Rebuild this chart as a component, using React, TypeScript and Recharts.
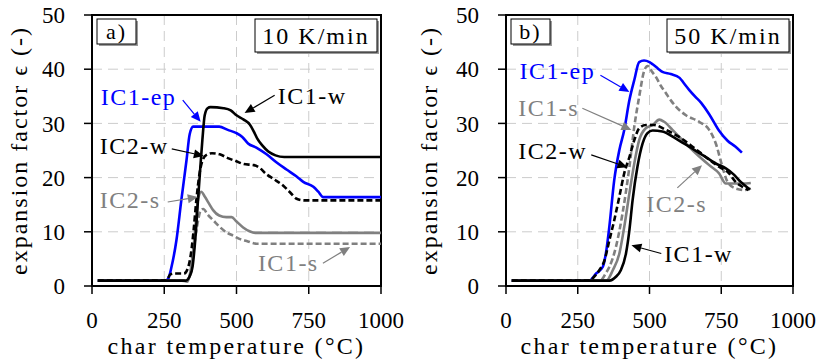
import React from 'react';
import {
  LineChart,
  Line,
  XAxis,
  YAxis,
  CartesianGrid,
  ReferenceArea,
  ReferenceLine,
  ReferenceDot,
  Label,
} from 'recharts';

const xTicks = [0, 250, 500, 750, 1000];
const yTicks = [0, 10, 20, 30, 40, 50];

// panel a) 10 K/min  -> [char temperature °C, expansion factor]
const aIC1ep = [[20, 1], [255, 1], [265, 1.5], [275, 3.5], [292, 8.4], [309, 15.8], [327, 23.2], [338, 28], [350, 29.4], [440, 29.4], [470, 28.8], [500, 28.2], [520, 27.5], [540, 26.3], [570, 25.5], [604, 24.3], [639, 22.8], [673, 21.5], [708, 20.2], [731, 19.2], [766, 18.3], [783, 17.4], [800, 16.4], [1000, 16.4]];
const aIC1w = [[20, 1], [325, 1], [338, 1.8], [348, 3.6], [358, 9], [367, 16], [375, 22], [382, 27], [390, 31.5], [400, 32.8], [410, 33], [455, 32.8], [480, 32.4], [500, 31.5], [525, 30.7], [546, 29.8], [560, 28.5], [572, 27.2], [590, 25.9], [610, 24.8], [635, 24.1], [665, 23.8], [1000, 23.8]];
const aIC2w = [[20, 1], [258, 1], [270, 2.1], [285, 2.3], [318, 2.3], [333, 3.5], [345, 7], [352, 10.5], [361, 15.8], [372, 20.7], [385, 23.5], [400, 24.3], [415, 24.5], [442, 24.3], [470, 23.6], [500, 23], [525, 22.5], [560, 22.3], [580, 21.8], [604, 20.6], [630, 19.7], [662, 18.5], [685, 17.3], [708, 16.1], [735, 15.8], [1000, 15.8]];
const aIC2s = [[20, 1], [310, 1], [330, 0.8], [340, 2.5], [350, 6.5], [358, 11], [367, 16], [378, 17.4], [390, 16.5], [405, 15.2], [419, 14], [440, 13], [465, 12.7], [483, 12.7], [500, 11.9], [523, 10.8], [545, 10.1], [565, 9.8], [1000, 9.8]];
const aIC1s = [[20, 1], [320, 1], [335, 1.5], [345, 3.5], [355, 8], [365, 11.5], [375, 13.8], [385, 14.2], [400, 13.2], [420, 12.1], [442, 10.9], [465, 9.9], [488, 9.3], [510, 8.7], [535, 8.3], [569, 7.8], [1000, 7.8]];

// panel b) 50 K/min
const bIC1ep = [[20, 1], [290, 1], [314, 2.3], [337, 3.5], [348, 6], [360, 10.9], [377, 19.5], [395, 25.1], [412, 28.8], [430, 34.3], [447, 38], [464, 41.3], [481, 41.6], [500, 41.3], [511, 40.9], [530, 40.1], [545, 39.5], [574, 39.1], [605, 38.4], [620, 37.4], [638, 36.2], [660, 34.9], [680, 33.8], [708, 31.7], [742, 28.7], [772, 26.8], [800, 25.7], [822, 24.6]];
const bIC1s = [[20, 1], [320, 1], [335, 1.3], [347, 2.3], [360, 3.5], [383, 7.2], [406, 13.4], [430, 22], [447, 29.4], [464, 34.9], [481, 39.6], [493, 40.6], [508, 39.6], [522, 38.6], [540, 36.9], [557, 35.6], [575, 34.2], [592, 33.1], [627, 31.5], [673, 30.3], [708, 28.8], [731, 26.3], [754, 22], [772, 19.2], [800, 18], [835, 17.7], [853, 18]];
const bIC2w = [[20, 1], [295, 1], [302, 1.4], [325, 2.9], [343, 4.7], [360, 8.4], [377, 12.1], [395, 16.5], [412, 20.8], [430, 23.8], [447, 26.9], [464, 29.1], [487, 29.7], [516, 29.7], [557, 28.8], [603, 27.5], [650, 25.7], [696, 23.8], [742, 22], [777, 20.8], [800, 19.2], [824, 18.3], [845, 17.7]];
const bIC1w = [[20, 1], [360, 1], [383, 1.7], [400, 2.9], [418, 6], [430, 10.3], [441, 15.8], [458, 22], [476, 26.3], [493, 28.2], [511, 28.7], [545, 28.5], [592, 27.2], [638, 25.7], [684, 24.2], [731, 22.6], [766, 21.7], [795, 20.5], [818, 19.2], [850, 17.8]];
const bIC2s = [[20, 1], [350, 1], [372, 2.9], [395, 6], [412, 10.9], [430, 17.1], [447, 22.6], [464, 26.9], [487, 29.1], [511, 29.7], [534, 30.7], [551, 30.3], [580, 28.8], [615, 26.9], [661, 24.5], [708, 22.3], [742, 20.8], [766, 18.9], [789, 18.9], [824, 18.9], [853, 19]];

const BLUE = '#0000ff';
const GRAY = '#808080';
const BLACK = '#000000';
// quoted single family: the only form that picked up the serif face in testing
const FONT = "'Liberation Serif'";
const fontStyle = { fontFamily: FONT };

const toRows = (pts: number[][]) => pts.map(([t, e]) => ({ t, e }));

// label text + arrow, in data units: text left/middle, arrow from -> to
const aNotes = [
  { text: 'IC1-ep', color: BLUE, at: [30, 34.9], arrow: [314, 34.3, 376, 30.3] },
  { text: 'IC1-w', color: BLACK, at: [643, 35.1], arrow: [632, 35.2, 528, 31.9] },
  { text: 'IC2-w', color: BLACK, at: [27, 25.8], arrow: [276, 25.3, 387, 24.0] },
  { text: 'IC2-s', color: GRAY, at: [27, 15.9], arrow: [262, 15.5, 366, 16.4] },
  { text: 'IC1-s', color: GRAY, at: [574, 4.2], arrow: [799, 4.2, 893, 7.2] },
];
const bNotes = [
  { text: 'IC1-ep', color: BLUE, at: [47, 39.7], arrow: [329, 38.9, 430, 35.8] },
  { text: 'IC1-s', color: GRAY, at: [43, 32.8], arrow: [266, 32.8, 437, 28.8] },
  { text: 'IC2-w', color: BLACK, at: [43, 24.9], arrow: [297, 24.2, 423, 21.9] },
  { text: 'IC2-s', color: GRAY, at: [489, 15.1], arrow: [597, 18.1, 683, 22.3] },
  { text: 'IC1-w', color: BLACK, at: [551, 5.9], arrow: [541, 6.0, 437, 7.5] },
];

const aSeries = [
  { pts: aIC1ep, color: BLUE, dash: undefined },
  { pts: aIC2s, color: GRAY, dash: undefined },
  { pts: aIC1s, color: GRAY, dash: '6 3' },
  { pts: aIC1w, color: BLACK, dash: undefined },
  { pts: aIC2w, color: BLACK, dash: '6 3' },
];
const bSeries = [
  { pts: bIC1ep, color: BLUE, dash: undefined },
  { pts: bIC2s, color: GRAY, dash: undefined },
  { pts: bIC1s, color: GRAY, dash: '6 3' },
  { pts: bIC1w, color: BLACK, dash: undefined },
  { pts: bIC2w, color: BLACK, dash: '6 3' },
];

function Arrow({ x1, y1, x2, y2, color }: any) {
  const a = Math.atan2(y2 - y1, x2 - x1);
  const L = 10;
  const W = 4.5;
  const bx = x2 - L * Math.cos(a);
  const by = y2 - L * Math.sin(a);
  const px = -Math.sin(a) * W;
  const py = Math.cos(a) * W;
  return (
    <g>
      <line x1={x1} y1={y1} x2={bx} y2={by} stroke={color} strokeWidth={1.2} />
      <polygon points={`${x2},${y2} ${bx + px},${by + py} ${bx - px},${by - py}`} fill={color} />
    </g>
  );
}

function TagBox({ x, y, w, h, text, fontSize }: any) {
  return (
    <g>
      <rect x={x + 2} y={y + 2} width={w} height={h} fill="#9a9a9a" />
      <rect x={x} y={y} width={w} height={h} fill="#fff" stroke="#000" strokeWidth={1} />
      <text x={x + w / 2} y={y + h / 2} textAnchor="middle" dominantBaseline="central"
        style={fontStyle} fontSize={fontSize} letterSpacing={2} fill="#000">
        {text}
      </text>
    </g>
  );
}

function Panel({ series, notes, tag, rate, left, width, yw, right }: any) {
  return (
    <div style={{ position: 'absolute', left, top: 0 }}>
      <LineChart width={width} height={363} margin={{ top: 15, right, bottom: 0, left: 0 }}>
        <CartesianGrid stroke="#cccccc" strokeDasharray="10 6" strokeWidth={1} />
        <XAxis
          type="number"
          dataKey="t"
          domain={[0, 1000]}
          ticks={xTicks}
          interval={0}
          allowDataOverflow
          height={77}
          tickSize={8}
          tickMargin={18}
          axisLine={{ stroke: '#000', strokeWidth: 2 }}
          tickLine={{ stroke: '#000', strokeWidth: 1.5 }}
          tick={{ fill: '#000', fontSize: 23, style: fontStyle }}
        >
          <Label
            content={(p: any) => {
              const vb = p.viewBox;
              return (
                <text x={vb.x + vb.width / 2} y={vb.y + 68} textAnchor="middle"
                  style={fontStyle} fontSize={24} letterSpacing={2.3} fill="#000">
                  char temperature (°C)
                </text>
              );
            }}
          />
        </XAxis>
        <YAxis
          type="number"
          domain={[0, 50]}
          ticks={yTicks}
          interval={0}
          allowDataOverflow
          width={yw}
          tickSize={8}
          tickMargin={19}
          axisLine={{ stroke: '#000', strokeWidth: 2 }}
          tickLine={{ stroke: '#000', strokeWidth: 1.5 }}
          tick={{ fill: '#000', fontSize: 23, style: fontStyle }}
        >
          <Label
            content={(p: any) => {
              const vb = p.viewBox;
              const cx = vb.x + 27;
              const cy = vb.y + vb.height / 2;
              return (
                <text x={cx} y={cy} transform={`rotate(-90 ${cx} ${cy})`} textAnchor="middle"
                  style={fontStyle} fontSize={24} letterSpacing={2} fill="#000">
                  expansion factor ϵ (-)
                </text>
              );
            }}
          />
        </YAxis>
        {series.map((s: any, i: number) => (
          <Line
            key={i}
            data={toRows(s.pts)}
            dataKey="e"
            type="monotone"
            stroke={s.color}
            strokeWidth={2.6}
            strokeDasharray={s.dash}
            dot={false}
            activeDot={false}
            isAnimationActive={false}
          />
        ))}
        <ReferenceArea x1={0} x2={1000} y1={0} y2={50} fill="none" fillOpacity={0}
          stroke="#000" strokeWidth={2} ifOverflow="visible" />
        {notes.map((n: any, i: number) => (
          <ReferenceLine
            key={'a' + i}
            segment={[{ x: n.arrow[0], y: n.arrow[1] }, { x: n.arrow[2], y: n.arrow[3] }]}
            ifOverflow="visible"
            shape={(p: any) => <Arrow x1={p.x1} y1={p.y1} x2={p.x2} y2={p.y2} color={n.color} />}
          />
        ))}
        {notes.map((n: any, i: number) => (
          <ReferenceDot
            key={'t' + i}
            x={n.at[0]}
            y={n.at[1]}
            r={1}
            ifOverflow="visible"
            shape={(p: any) => (
              <text x={p.cx} y={p.cy} dominantBaseline="central" style={fontStyle}
                fontSize={24} letterSpacing={1.5} fill={n.color}>
                {n.text}
              </text>
            )}
          />
        ))}
        <ReferenceDot x={0} y={50} r={1} ifOverflow="visible"
          shape={(p: any) => <TagBox x={p.cx + 5} y={p.cy + 4} w={39} h={25} text={tag} fontSize={22} />} />
        <ReferenceDot x={1000} y={50} r={1} ifOverflow="visible"
          shape={(p: any) => <TagBox x={p.cx - 126} y={p.cy + 4} w={122} h={33} text={rate} fontSize={24} />} />
      </LineChart>
    </div>
  );
}

export default function App() {
  return (
    <div style={{ position: 'absolute', left: 0, top: 0, width: 819, height: 363, background: '#fff' }}>
      <Panel series={aSeries} notes={aNotes} tag="a)" rate="10 K/min" left={0} width={410} yw={92} right={29} />
      <Panel series={bSeries} notes={bNotes} tag="b)" rate="50 K/min" left={410} width={409} yw={96} right={26} />
    </div>
  );
}
